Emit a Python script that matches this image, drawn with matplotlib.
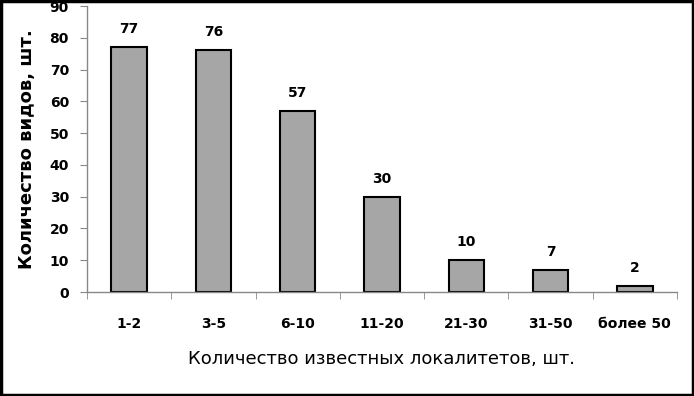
import matplotlib.pyplot as plt
from matplotlib.patches import Rectangle
import numpy as np

categories = ['1-2', '3-5', '6-10', '11-20', '21-30', '31-50', 'более 50']
counts = [77, 76, 57, 30, 10, 7, 2]

plt.rcParams['font.family'] = ['DejaVu Sans']

fig = plt.figure(figsize=(6.94, 3.96), dpi=100)
ax = fig.add_axes([87/694, 1 - 292/396, 590/694, 286/396])

x = np.arange(len(categories))
ax.bar(x, counts, width=0.42, color='#a6a6a6', edgecolor='black', linewidth=1.5)
for xi, v in zip(x, counts):
    ax.text(xi, v + 3.5, str(v), ha='center', va='bottom', fontsize=10, fontweight='bold')

ax.set_xlim(-0.5, len(categories) - 0.5)
ax.set_ylim(0, 90)
ax.set_yticks(range(0, 91, 10))
ax.set_xticks(x)
ax.set_xticklabels(categories, fontsize=10, fontweight='bold')
ax.set_xticks(np.arange(-0.5, len(categories)), minor=True)
ax.tick_params(axis='x', which='major', length=0, pad=18)
ax.tick_params(axis='x', which='minor', length=5, color='#888888')
ax.tick_params(axis='y', length=5, color='#888888', labelsize=10, pad=8)
for lbl in ax.get_yticklabels():
    lbl.set_fontweight('bold')

for s in ['top', 'right']:
    ax.spines[s].set_visible(False)
for s in ['left', 'bottom']:
    ax.spines[s].set_color('#888888')
    ax.spines[s].set_linewidth(1)

ax.set_ylabel('Количество видов, шт.', fontsize=13, fontweight='bold', labelpad=10)
ax.set_xlabel('Количество известных локалитетов, шт.', fontsize=13, labelpad=14)

fig.patches.append(Rectangle((0.002, 0.003), 0.996, 0.994, transform=fig.transFigure,
                             fill=False, edgecolor='black', linewidth=2.5))

fig.savefig('out.png', dpi=100)
